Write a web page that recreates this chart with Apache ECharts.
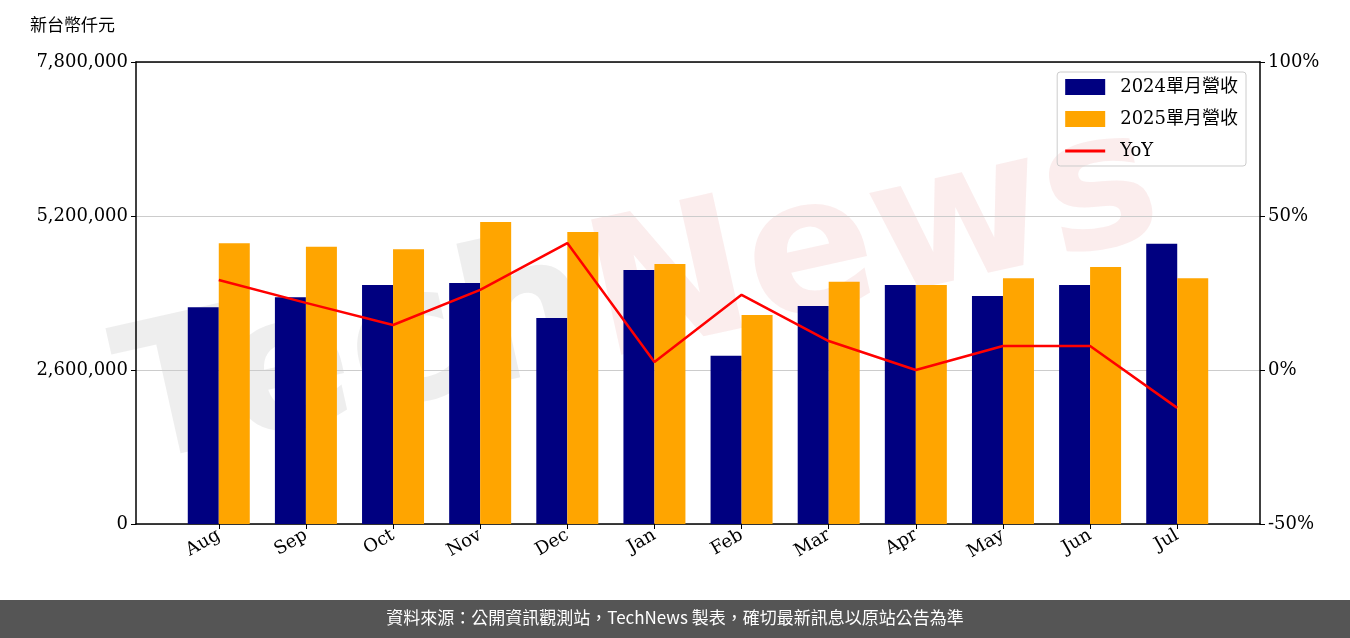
<!DOCTYPE html>
<html><head><meta charset="utf-8">
<script src="https://cdn.jsdelivr.net/npm/echarts@6/dist/echarts.min.js"></script>
<style>html,body{margin:0;padding:0;background:#fff}#c{width:1350px;height:638px}</style>
</head><body><div id="c"></div>
<script>
const categories=['Aug','Sep','Oct','Nov','Dec','Jan','Feb','Mar','Apr','May','Jun','Jul'];
const rev2024=[3660000,3830000,4035000,4070000,3480000,4290000,2840000,3680000,4035000,3850000,4035000,4730000];
const rev2025=[4740000,4680000,4640000,5100000,4930000,4390000,3530000,4090000,4035000,4150000,4340000,4150000];
const yoy=[29.2,21.8,14.6,26,41.2,2.6,24.4,9.4,0,7.8,7.8,-12.3];
const F='"DejaVu Serif", "Noto Sans CJK TC", serif';
const idx=categories.map((c,i)=>i);
const chart=echarts.init(document.getElementById('c'));
chart.setOption({
  animation:false,
  grid:{left:136,right:90,top:62,bottom:114},
  graphic:[
    {type:'text',left:30,top:16,style:{text:'新台幣仟元',font:'17px "Noto Sans CJK TC"',fill:'#000'}},
    {type:'text',x:640,y:300,rotation:0.22,z:-1,
     style:{text:'{a|Tech}{b|News}',align:'center',verticalAlign:'middle',
       rich:{a:{font:'bold 190px "DejaVu Sans"',fill:'rgba(140,140,140,0.15)'},b:{font:'bold 190px "DejaVu Sans"',fill:'rgba(220,110,110,0.12)'}}}},
    {type:'rect',left:0,top:600,shape:{width:1350,height:38},style:{fill:'#555'}},
    {type:'text',left:'center',top:609,style:{text:'資料來源：公開資訊觀測站，TechNews 製表，確切最新訊息以原站公告為準',font:'17px "Noto Sans CJK TC"',fill:'#fff'}}
  ],
  legend:{right:104,top:72,orient:'vertical',itemWidth:40,itemHeight:16,itemGap:14,
    borderColor:'#ccc',borderWidth:1,borderRadius:3,padding:[6,8,6,8],
    textStyle:{fontFamily:F,fontSize:18,color:'#000',padding:[0,0,0,10]},
    data:[{name:'2024單月營收',icon:'rect'},{name:'2025單月營收',icon:'rect'},{name:'YoY',icon:'path://M0,7h40v3h-40z'}]},
  xAxis:[{type:'value',min:-0.95,max:11.95,
    axisTick:{show:true,customValues:idx,length:5,lineStyle:{color:'#000'}},
    axisLine:{onZero:false,lineStyle:{color:'#000',width:1.5}},splitLine:{show:false},
    axisLabel:{customValues:idx,formatter:v=>categories[Math.round(v)],rotate:30,fontFamily:F,fontSize:18,color:'#000',margin:10}},
    {type:'value',position:'top',min:0,max:1,axisLine:{show:true,onZero:false,lineStyle:{color:'#000',width:1.5}},
     axisTick:{show:false},axisLabel:{show:false},splitLine:{show:false}}],
  yAxis:[
    {type:'value',min:0,max:7800000,interval:2600000,
     axisLine:{show:true,onZero:false,lineStyle:{color:'#000',width:1.5}},axisTick:{show:true,length:5,lineStyle:{color:'#000'}},
     splitLine:{lineStyle:{color:'#ccc'}},
     axisLabel:{fontFamily:F,fontSize:18,color:'#000',formatter:v=>v.toLocaleString('en-US')}},
    {type:'value',min:-50,max:100,interval:50,
     axisLine:{show:true,onZero:false,lineStyle:{color:'#000',width:1.5}},axisTick:{show:true,length:5,lineStyle:{color:'#000'}},
     splitLine:{show:false},
     axisLabel:{fontFamily:F,fontSize:18,color:'#000',formatter:'{value}%'}}
  ],
  series:[
    {name:'2024單月營收',type:'bar',data:rev2024.map((v,i)=>[i,v]),itemStyle:{color:'#000080'},barWidth:31,barGap:'0%'},
    {name:'2025單月營收',type:'bar',data:rev2025.map((v,i)=>[i,v]),itemStyle:{color:'#FFA500'},barWidth:31},
    {name:'YoY',type:'line',yAxisIndex:1,data:yoy.map((v,i)=>[i,v]),showSymbol:false,lineStyle:{color:'#ff0000',width:2.5},itemStyle:{color:'#ff0000'}}
  ]
});
</script></body></html>
